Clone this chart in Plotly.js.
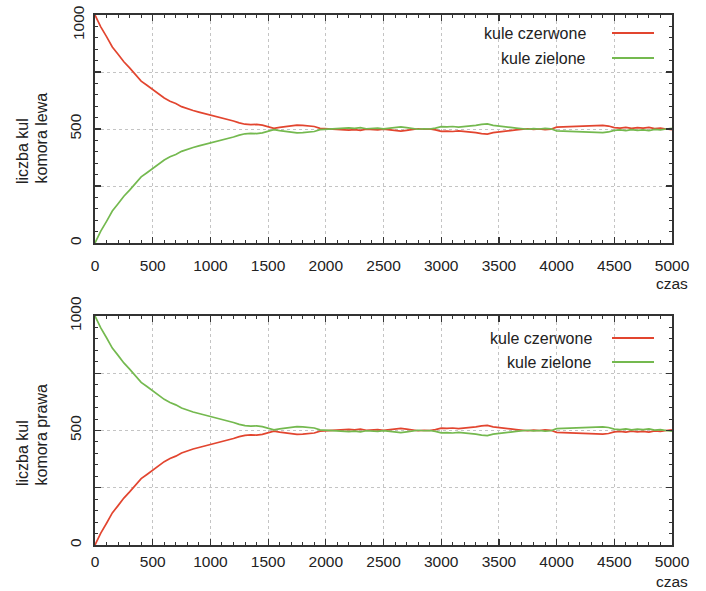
<!DOCTYPE html>
<html>
<head>
<meta charset="utf-8">
<script src="https://cdn.plot.ly/plotly-3.0.1.min.js"></script>
<style>html,body{margin:0;padding:0;background:#fff;}#chart{width:706px;height:591px;}</style>
</head>
<body>
<div id="chart"></div>
<script>
// time axis (czas), step 50
const czas = [0,50,100,150,200,250,300,350,400,450,500,550,600,650,700,750,800,850,900,950,
1000,1050,1100,1150,1200,1250,1300,1350,1400,1450,1500,1550,1600,1650,1700,1750,1800,1850,1900,1950,
2000,2050,2100,2150,2200,2250,2300,2350,2400,2450,2500,2550,2600,2650,2700,2750,2800,2850,2900,2950,
3000,3050,3100,3150,3200,3250,3300,3350,3400,3450,3500,3550,3600,3650,3700,3750,3800,3850,3900,3950,
4000,4050,4100,4150,4200,4250,4300,4350,4400,4450,4500,4550,4600,4650,4700,4750,4800,4850,4900,4950,5000];

// left chamber (komora lewa)
const lewaCzerwone = [1000,948,905,860,828,795,768,738,710,692,672,652,636,622,612,598,588,581,574,568,
562,555,549,541,535,527,521,519,520,517,510,503,507,510,512,517,516,513,511,503,
501,502,499,498,495,497,494,499,498,496,499,497,492,491,494,497,501,499,500,496,
490,491,489,492,490,486,484,480,478,484,486,489,493,496,499,501,498,500,497,499,
508,509,511,510,512,514,516,515,516,513,506,504,507,503,506,504,507,502,504,500,497];
const lewaZielone = [0,52,95,140,172,205,232,262,290,308,328,348,364,378,388,402,412,419,426,432,
438,445,451,459,465,473,479,481,480,483,490,497,493,490,488,483,484,487,489,497,
499,498,501,502,505,503,506,501,502,504,501,503,508,509,506,503,499,501,500,504,
510,509,511,508,510,514,516,520,522,516,514,511,507,504,501,499,502,500,503,501,
492,491,489,490,488,486,484,485,484,487,494,496,493,497,494,496,493,498,496,500,503];

// right chamber (komora prawa)
const prawaCzerwone = [0,52,95,140,172,205,232,262,290,308,328,348,364,378,388,402,412,419,426,432,
438,445,451,459,465,473,479,481,480,483,490,497,493,490,488,483,484,487,489,497,
499,498,501,502,505,503,506,501,502,504,501,503,508,509,506,503,499,501,500,504,
510,509,511,508,510,514,516,520,522,516,514,511,507,504,501,499,502,500,503,501,
492,491,489,490,488,486,484,485,484,487,494,496,493,497,494,496,493,498,496,500,503];
const prawaZielone = [1000,948,905,860,828,795,768,738,710,692,672,652,636,622,612,598,588,581,574,568,
562,555,549,541,535,527,521,519,520,517,510,503,507,510,512,517,516,513,511,503,
501,502,499,498,495,497,494,499,498,496,499,497,492,491,494,497,501,499,500,496,
490,491,489,492,490,486,484,480,478,484,486,489,493,496,499,501,498,500,497,499,
508,509,511,510,512,514,516,515,516,513,506,504,507,503,506,504,507,502,504,500,497];

const xTicks = [0,500,1000,1500,2000,2500,3000,3500,4000,4500,5000];
const yTicks = [0,250,500,750,1000];
const yTickText = ['0','','500','','1000'];
const yTickTextTop = ['0','','500','',''];   // top "1000" drawn as annotation (shifted down like the original)
const topLabel = '1000';
const seriesNames = ['kule czerwone','kule zielone'];
const yTitles = [['liczba kul','komora lewa'],['liczba kul','komora prawa']];
const xTitle = 'czas';

const RED = '#e2452f', GREEN = '#74b94f';
const W = 706, H = 591;
const px = x => x / W;
const py = y => 1 - y / H;
const FONT = 'Liberation Sans, Arial, Helvetica, sans-serif';

const traces = [
  {x: czas, y: lewaCzerwone, name: seriesNames[0], xaxis: 'x', yaxis: 'y', mode: 'lines', line: {color: RED, width: 1.7}},
  {x: czas, y: lewaZielone, name: seriesNames[1], xaxis: 'x', yaxis: 'y', mode: 'lines', line: {color: GREEN, width: 1.7}},
  {x: czas, y: prawaCzerwone, name: seriesNames[0], xaxis: 'x2', yaxis: 'y2', mode: 'lines', line: {color: RED, width: 1.7}},
  {x: czas, y: prawaZielone, name: seriesNames[1], xaxis: 'x2', yaxis: 'y2', mode: 'lines', line: {color: GREEN, width: 1.7}}
];

function xAxis(anchor, standoff) {
  return {
    anchor: anchor, domain: [px(95), px(672)], range: [0, 5000],
    tickmode: 'array', tickvals: xTicks, ticktext: xTicks.map(String),
    ticks: 'inside', ticklen: 6, tickwidth: 1.2, tickcolor: '#333',
    showline: true, linecolor: '#333', linewidth: 1.8, mirror: 'ticks',
    showgrid: true, gridcolor: '#c4c4c4', griddash: 'dot', gridwidth: 1,
    zeroline: false, ticklabelstandoff: standoff,
    tickfont: {family: FONT, size: 15.5, color: '#222'},
    minor: {dtick: 100, tick0: 0, ticks: 'inside', ticklen: 3, tickcolor: '#333', tickwidth: 1, showgrid: false}
  };
}
function yAxis(anchor, top, bottom, text) {
  return {
    anchor: anchor, domain: [py(bottom), py(top)], range: [0, 1000],
    tickmode: 'array', tickvals: yTicks, ticktext: text, tickangle: -90,
    ticks: 'inside', ticklen: 6, tickwidth: 1.2, tickcolor: '#333',
    showline: true, linecolor: '#333', linewidth: 1.8, mirror: 'ticks',
    showgrid: true, gridcolor: '#c4c4c4', griddash: 'dot', gridwidth: 1,
    zeroline: false, ticklabelstandoff: 6,
    tickfont: {family: FONT, size: 15.5, color: '#222'},
    minor: {dtick: 50, tick0: 0, ticks: 'inside', ticklen: 3, tickcolor: '#333', tickwidth: 1, showgrid: false}
  };
}

const panels = [
  {top: 15, bottom: 243, textRight: 588, l1: 33, l2: 58, czasY: 283},
  {top: 316, bottom: 545, textRight: 594, l1: 338, l2: 362, czasY: 581}
];

const shapes = [];
const annotations = [];
panels.forEach((p, i) => {
  shapes.push({type: 'rect', xref: 'paper', yref: 'paper', layer: 'between',
    x0: px(482), x1: px(669), y0: py(p.top + 62), y1: py(p.top + 1),
    fillcolor: '#fff', line: {width: 0}});
  [[p.l1, RED], [p.l2, GREEN]].forEach(([yy, c]) => {
    shapes.push({type: 'line', xref: 'paper', yref: 'paper', layer: 'above',
      x0: px(612), x1: px(654), y0: py(yy), y1: py(yy), line: {color: c, width: 2}});
  });
  annotations.push({xref: 'paper', yref: 'paper', x: px(p.textRight), y: py(p.l1), xanchor: 'right', yanchor: 'middle',
    text: seriesNames[0], showarrow: false, font: {family: FONT, size: 16, color: '#222'}});
  annotations.push({xref: 'paper', yref: 'paper', x: px(p.textRight), y: py(p.l2), xanchor: 'right', yanchor: 'middle',
    text: seriesNames[1], showarrow: false, font: {family: FONT, size: 16, color: '#222'}});
  const start = p.bottom - 57;
  annotations.push({xref: 'paper', yref: 'paper', x: px(22), y: py(start), xanchor: 'center', yanchor: 'bottom',
    text: yTitles[i][0], textangle: -90, showarrow: false, font: {family: FONT, size: 16, color: '#222'}});
  annotations.push({xref: 'paper', yref: 'paper', x: px(41), y: py(start), xanchor: 'center', yanchor: 'bottom',
    text: yTitles[i][1], textangle: -90, showarrow: false, font: {family: FONT, size: 16, color: '#222'}});
  annotations.push({xref: 'paper', yref: 'paper', x: px(690), y: py(p.czasY), xanchor: 'right', yanchor: 'middle',
    text: xTitle, showarrow: false, font: {family: FONT, size: 15.5, color: '#222'}});
});
annotations.push({xref: 'paper', yref: 'paper', x: px(78), y: py(23), xanchor: 'center', yanchor: 'middle',
  text: topLabel, textangle: -90, showarrow: false, font: {family: FONT, size: 15.5, color: '#222'}});

const layout = {
  width: W, height: H,
  margin: {l: 0, r: 0, t: 0, b: 0},
  paper_bgcolor: '#fff', plot_bgcolor: '#fff',
  showlegend: false,
  font: {family: FONT, size: 15, color: '#222'},
  xaxis: xAxis('y', 8),
  yaxis: yAxis('x', 15, 243, yTickTextTop),
  xaxis2: xAxis('y2', 2),
  yaxis2: yAxis('x2', 316, 545, yTickText),
  shapes: shapes,
  annotations: annotations
};

Plotly.newPlot('chart', traces, layout, {staticPlot: true, displayModeBar: false});
</script>
</body>
</html>
